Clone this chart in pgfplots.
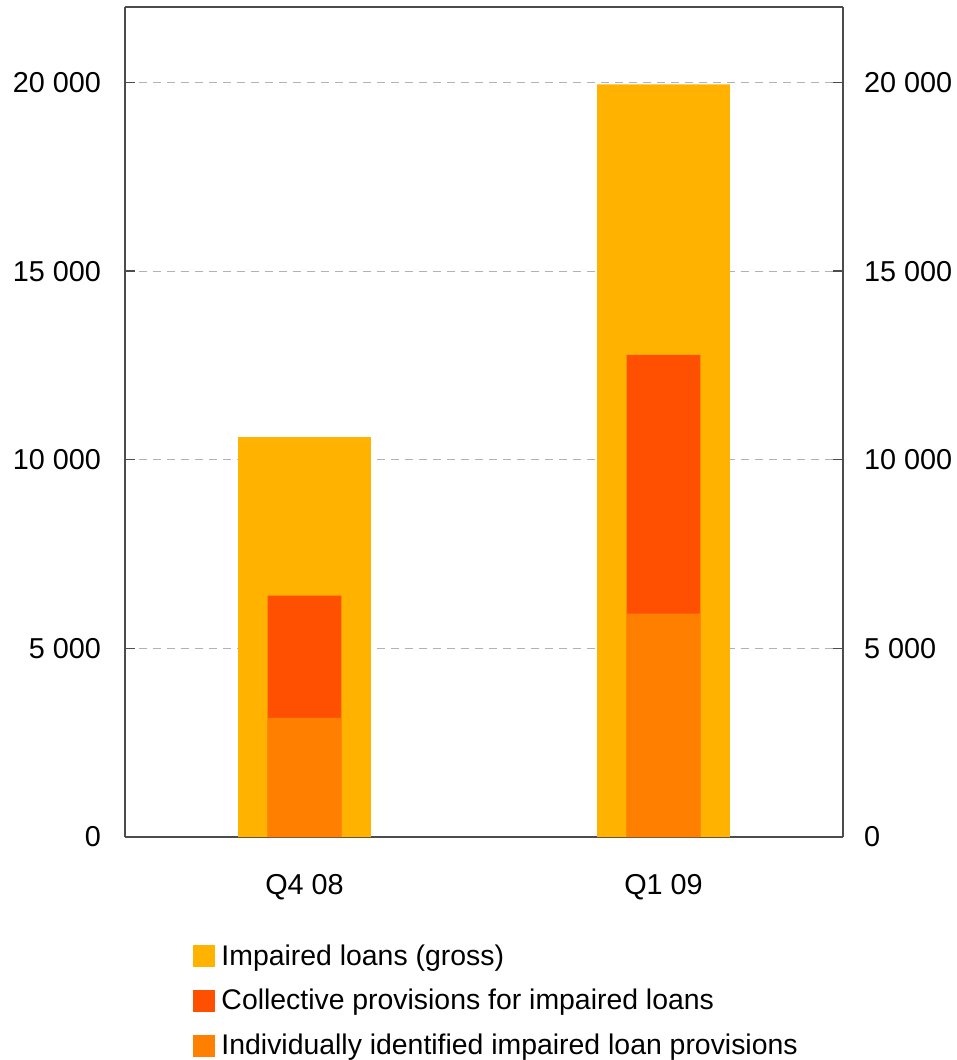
\documentclass[border=0pt]{standalone}
\usepackage{pgfplots}
\pgfplotsset{compat=1.18}
\usepackage{fontspec}
\setmainfont{Liberation Sans}
\definecolor{cgross}{HTML}{FFB300}
\definecolor{ccoll}{HTML}{FF4F00}
\definecolor{cind}{HTML}{FF8000}
\begin{document}
\begin{tikzpicture}
\pgfplotsset{
  common/.style={
    scale only axis, width=359pt, height=415pt,
    xmin=-0.5, xmax=1.5, ymin=0, ymax=22000,
    ytick={0,5000,10000,15000,20000},
    scaled y ticks=false,
    yticklabel={\pgfmathprintnumber[assume math mode=true,1000 sep={\ },fixed]{\tick}},
    tick label style={font=\fontsize{14.4}{17}\selectfont},
    major tick length=5pt,
    tick style={black!70, line width=0.6pt},
    axis line style={black!70, line width=0.6pt},
  }
}
\begin{axis}[common,
  axis y line*=left, axis x line*=bottom,
  ymajorgrids, grid style={dashed, gray!60, line width=0.5pt, dash pattern=on 4pt off 3pt},
  xtick={0,1}, xticklabels={Q4 08, Q1 09},
  x tick style={draw=none},
  extra x ticks={0.5}, extra x tick labels={},
  extra x tick style={tick style={black!70}, major tick length=5pt},
  xticklabel style={yshift=-10pt},
  yticklabel style={xshift=-8.5pt},
  ybar, bar shift=0pt,
  legend style={at={(rel axis cs:0.0954,-0.1249)}, anchor=north west, draw=none, fill=none,
    inner sep=0pt, outer sep=0pt,
    font=\fontsize{14.2}{17}\selectfont, row sep=6.5pt,
    legend cell align=left},
  legend image code/.code={\fill[#1] (0pt,-5.5pt) rectangle (11pt,5.5pt); \path (0pt,0pt) -- (12pt,0pt);},
]
\addplot[fill=cgross, draw=none, bar width=0.37] coordinates {(0,10600) (1,19950)};
\addlegendentry{Impaired loans (gross)}
\addplot[fill=ccoll, draw=none, bar width=0.205] coordinates {(0,6400) (1,12780)};
\addlegendentry{Collective provisions for impaired loans}
\addplot[fill=cind, draw=none, bar width=0.205] coordinates {(0,3160) (1,5920)};
\addlegendentry{Individually identified impaired loan provisions}
\end{axis}
\begin{axis}[common,
  axis y line*=right, axis x line*=top,
  xtick=\empty,
  yticklabel style={xshift=7pt},
]
\end{axis}
\pgfresetboundingbox
\path ([shift={(-62.5pt,-111.5pt)}]current axis.south west) rectangle ([shift={(57pt,3.5pt)}]current axis.north east);
\end{tikzpicture}
\end{document}
